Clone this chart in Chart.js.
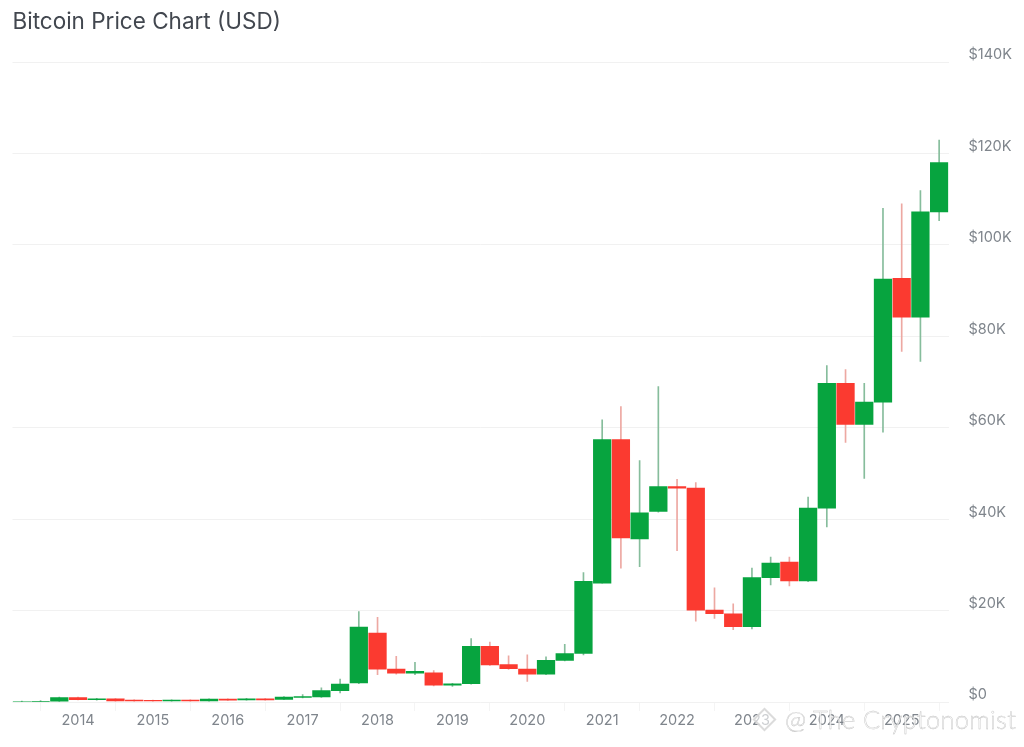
<!DOCTYPE html>
<html>
<head>
<meta charset="utf-8">
<title>Bitcoin Price Chart (USD)</title>
<script src="https://cdn.jsdelivr.net/npm/chart.js@4"></script>
<style>
  html, body { margin: 0; padding: 0; background: #fff; }
  #wrap { position: relative; width: 1024px; height: 747px; overflow: hidden; }
  canvas { display: block; }
  .wm-text {
    position: absolute; left: 785px; top: 704px; white-space: nowrap;
    font: 300 25.5px "Lato", sans-serif; letter-spacing: 0.3px;
    color: rgba(255,255,255,0.8); -webkit-text-stroke: 0.4px #bdbdbd;
  }
  .wm-logo {
    position: absolute; left: 756px; top: 711px; width: 17px; height: 17px;
    transform: rotate(45deg); border: 2px solid rgba(210,210,210,0.8);
    box-sizing: border-box; background: rgba(255,255,255,0.6);
  }
</style>
</head>
<body>
<div id="wrap">
  <canvas id="chart" width="1024" height="747"></canvas>
  <div class="wm-logo"></div>
  <div class="wm-text">@ The Cryptonomist</div>
</div>
<script>
const categories = [
  "2013 Q2", "2013 Q3", "2013 Q4",
  "2014 Q1", "2014 Q2", "2014 Q3", "2014 Q4",
  "2015 Q1", "2015 Q2", "2015 Q3", "2015 Q4",
  "2016 Q1", "2016 Q2", "2016 Q3", "2016 Q4",
  "2017 Q1", "2017 Q2", "2017 Q3", "2017 Q4",
  "2018 Q1", "2018 Q2", "2018 Q3", "2018 Q4",
  "2019 Q1", "2019 Q2", "2019 Q3", "2019 Q4",
  "2020 Q1", "2020 Q2", "2020 Q3", "2020 Q4",
  "2021 Q1", "2021 Q2", "2021 Q3", "2021 Q4",
  "2022 Q1", "2022 Q2", "2022 Q3", "2022 Q4",
  "2023 Q1", "2023 Q2", "2023 Q3", "2023 Q4",
  "2024 Q1", "2024 Q2", "2024 Q3", "2024 Q4",
  "2025 Q1", "2025 Q2", "2025 Q3"
];

// values in $K
const opens = [
  0.1, 0.12, 0.2,
  0.95, 0.5, 0.7, 0.4,
  0.35, 0.25, 0.4, 0.25,
  0.65, 0.45, 0.67, 0.55,
  1.0, 1.1, 2.5, 4.2,
  15.1, 7.2, 6.3, 6.4,
  3.7, 4.0, 12.2, 8.2,
  7.2, 6.1, 9.1, 10.6,
  26.0, 57.4, 35.7, 41.7,
  47.1, 46.8, 20.1, 19.3,
  16.5, 27.2, 30.6, 26.5,
  42.4, 69.7, 60.7, 65.6,
  92.7, 84.2, 107.2
];
const closes = [
  0.1, 0.12, 0.95,
  0.5, 0.7, 0.25, 0.25,
  0.25, 0.4, 0.25, 0.65,
  0.42, 0.68, 0.45, 1.1,
  1.2, 2.5, 3.9, 16.4,
  7.2, 6.3, 6.7, 3.7,
  4.0, 12.2, 8.1, 7.3,
  6.1, 9.1, 10.6, 26.4,
  57.4, 35.9, 41.4, 47.1,
  46.8, 20.1, 19.3, 16.5,
  27.2, 30.4, 26.5, 42.4,
  69.7, 60.7, 65.6, 92.5,
  84.2, 107.2, 118.0
];
const highs = [
  0.2, 0.3, 1.1,
  1.1, 0.8, 0.75, 0.5,
  0.4, 0.45, 0.5, 0.7,
  0.7, 0.78, 0.75, 1.2,
  1.6, 3.1, 5.0, 19.8,
  18.5, 10.0, 8.7, 6.9,
  4.1, 13.9, 13.1, 10.1,
  10.3, 9.9, 12.6, 28.3,
  61.7, 64.6, 52.8, 69.0,
  48.7, 48.0, 25.0, 21.5,
  29.3, 31.7, 31.7, 44.8,
  73.6, 72.7, 69.7, 108.0,
  109.0, 111.9, 122.9
];
const lows = [
  0.08, 0.1, 0.15,
  0.45, 0.4, 0.2, 0.2,
  0.18, 0.2, 0.2, 0.2,
  0.35, 0.4, 0.4, 0.5,
  0.9, 1.0, 2.0, 4.0,
  6.0, 6.1, 6.0, 3.5,
  3.4, 3.9, 8.0, 7.1,
  4.5, 6.0, 9.0, 10.3,
  26.0, 29.3, 29.6, 41.5,
  33.1, 17.7, 18.3, 15.8,
  16.0, 25.6, 25.4, 26.3,
  38.3, 56.8, 48.9, 59.0,
  76.7, 74.5, 105.3
];

const GREEN = "#07a43f";
const RED = "#fb3a30";
const GREEN_WICK = "#86bd9c";
const RED_WICK = "#eda8a2";
const GREY = "#7f858c";

const up = opens.map((o, i) => closes[i] >= o);

new Chart(document.getElementById("chart"), {
  type: "bar",
  data: {
    labels: categories,
    datasets: [
      {
        label: "Body",
        data: opens.map((o, i) => [o, closes[i]]),
        backgroundColor: up.map(u => u ? GREEN : RED),
        barThickness: 17.6,
        grouped: false,
        order: 1
      },
      {
        label: "Wick",
        data: lows.map((l, i) => [l, highs[i]]),
        backgroundColor: up.map(u => u ? GREEN_WICK : RED_WICK),
        barThickness: 1,
        grouped: false,
        order: 2
      }
    ]
  },
  options: {
    responsive: false,
    animation: false,
    layout: { padding: { left: 12.5, top: 0, right: 0, bottom: 0 } },
    plugins: {
      legend: { display: false },
      tooltip: { enabled: false },
      title: {
        display: true,
        text: "Bitcoin Price Chart (USD)",
        align: "start",
        color: "#42474f",
        font: { family: "Inter", size: 22.5, weight: "normal", lineHeight: 1.2 },
        padding: { top: 9, bottom: 26 }
      }
    },
    scales: {
      x: {
        afterFit: s => { s.height = 45; },
        border: { display: false },
        grid: { drawOnChartArea: false, drawTicks: true, tickLength: 9, tickColor: "#f4f4f4" },
        ticks: {
          autoSkip: false,
          maxRotation: 0,
          padding: 1,
          color: GREY,
          font: { family: "Inter", size: 14.5 },
          callback: function (value) {
            const label = this.getLabelForValue(value);
            return label.endsWith("Q1") ? label.slice(0, 4) : null;
          }
        }
      },
      y: {
        position: "right",
        min: 0,
        max: 140,
        afterFit: s => { s.width = 75.5; },
        border: { display: false },
        grid: { color: "#f1f1f1", drawTicks: false },
        ticks: {
          stepSize: 20,
          padding: 20,
          labelOffset: -7,
          color: GREY,
          font: { family: "Inter", size: 14.5 },
          callback: v => v === 0 ? "$0" : "$" + v + "K"
        }
      }
    }
  }
});
</script>
</body>
</html>
